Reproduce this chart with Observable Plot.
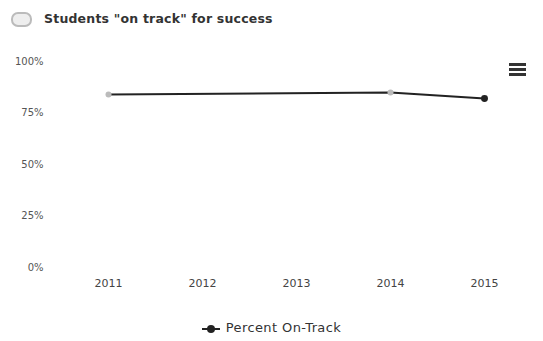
<!DOCTYPE html>
<html>
<head>
<meta charset="utf-8">
<script src="https://cdn.jsdelivr.net/npm/d3@7"></script>
<script src="https://cdn.jsdelivr.net/npm/@observablehq/plot@0.6"></script>
<style>
  body { margin: 0; background: #fff; font-family: "DejaVu Sans", sans-serif; width: 543px; height: 341px; position: relative; overflow: hidden; }
  #title { height: 36px; position: relative; }
  #title .icon { position: absolute; left: 11px; top: 12px; width: 17px; height: 11px; border: 2px solid #bbb; border-radius: 7px; background: #eee; }
  #title .txt { position: absolute; left: 44px; top: 11px; font-size: 12.5px; font-weight: bold; color: #333; letter-spacing: 0.2px; }
  #menu { position: absolute; left: 509px; top: 63px; width: 17px; }
  #menu div { height: 3px; background: #333; margin-bottom: 2px; }
  #legend { position: absolute; top: 320px; left: 0; width: 543px; text-align: center; font-size: 13px; color: #333; letter-spacing: 0.4px; }
  #legend svg { vertical-align: middle; margin-right: 6px; }
</style>
</head>
<body>
<div id="title"><div class="icon"></div><div class="txt">Students "on track" for success</div></div>
<div id="chart"></div>
<div id="menu"><div></div><div></div><div></div></div>
<div id="legend"><svg width="18" height="10"><line x1="0" y1="5" x2="18" y2="5" stroke="#222" stroke-width="2"/><circle cx="9" cy="5" r="4" fill="#222"/></svg>Percent On-Track</div>
<script>
const years = ["2011", "2012", "2013", "2014", "2015"];
const dataYears = ["2011", "2014", "2015"];
const percentOnTrack = [84, 85, 82];
const yTicks = [0, 25, 50, 75, 100];

const data = dataYears.map((y, i) => ({year: y, value: percentOnTrack[i]}));

const chart = Plot.plot({
  width: 543,
  height: 270,
  marginTop: 25,
  marginBottom: 39,
  marginLeft: 107,
  marginRight: 59,
  style: {fontFamily: "DejaVu Sans, sans-serif", fontSize: "10px", color: "#555", background: "#fff"},
  x: {type: "point", domain: years, padding: 0},
  y: {domain: [0, 100]},
  marks: [
    Plot.axisY({ticks: yTicks, tickSize: 0, tickPadding: 64, tickFormat: d => d + "%", label: null, fill: "#555"}),
    Plot.axisX({tickSize: 0, tickPadding: 12, label: null, fill: "#444", fontSize: 11, style: "letter-spacing:1px"}),
    Plot.line(data, {x: "year", y: "value", stroke: "#222", strokeWidth: 2}),
    Plot.dot(data, {x: "year", y: "value", r: (d, i) => i === 2 ? 4 : 3,
      fill: (d, i) => i === 2 ? "#222" : "#bbb", stroke: "none"})
  ]
});
document.getElementById("chart").appendChild(chart);
</script>
</body>
</html>
